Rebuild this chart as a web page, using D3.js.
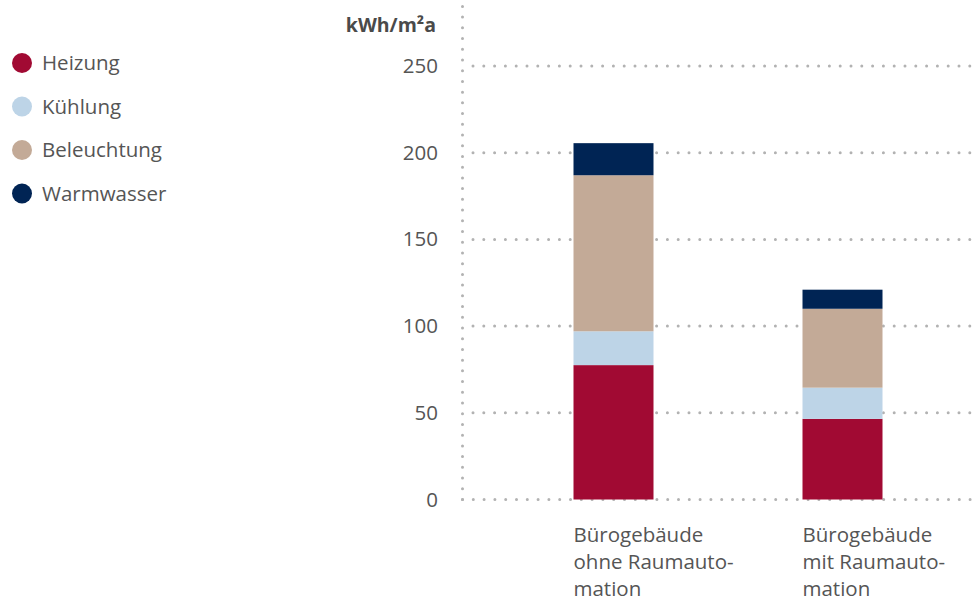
<!DOCTYPE html>
<html>
<head>
<meta charset="utf-8">
<script src="https://cdn.jsdelivr.net/npm/d3@7"></script>
<style>
  body { margin: 0; background: #fff; }
  svg { display: block; font-family: "Open Sans", sans-serif; }
</style>
</head>
<body>
<div id="chart"></div>
<script>
// data
var categories = ["Bürogebäude ohne Raumautomation", "Bürogebäude mit Raumautomation"];
var labelLines = [["Bürogebäude", "ohne Raumauto-", "mation"], ["Bürogebäude", "mit Raumauto-", "mation"]];
var seriesNames = ["Heizung", "Kühlung", "Beleuchtung", "Warmwasser"];
var heizung = [77.5, 46.5];
var kuehlung = [19.5, 18];
var beleuchtung = [90, 45.5];
var warmwasser = [18.5, 11];
var yTicks = [0, 50, 100, 150, 200, 250];
var colors = ["#a10a33", "#bdd4e7", "#c3aa97", "#002454"];

var width = 978, height = 601;

var svg = d3.select("#chart").append("svg")
    .attr("width", width)
    .attr("height", height);

// build table for stack
var table = categories.map(function(c, i) {
  return { cat: c, Heizung: heizung[i], "Kühlung": kuehlung[i], Beleuchtung: beleuchtung[i], Warmwasser: warmwasser[i] };
});
var stacked = d3.stack().keys(seriesNames)(table);

// scales
var y = d3.scaleLinear().domain([0, 250]).range([499.5, 66]);
var x = d3.scaleBand().domain(categories).range([499, 957]);
var barW = 80;
var axisX = 462.5;

// grid lines (dotted)
svg.append("g")
  .selectAll("line")
  .data(yTicks)
  .enter().append("line")
    .attr("x1", function(d) { return d === 0 ? axisX : axisX + 10.5; })
    .attr("x2", width)
    .attr("y1", function(d) { return y(d); })
    .attr("y2", function(d) { return y(d); })
    .attr("stroke", "#b2b2b2")
    .attr("stroke-width", 3)
    .attr("stroke-linecap", "round")
    .attr("stroke-dasharray", "0 10.8");

// vertical axis line (dotted)
svg.append("line")
  .attr("x1", axisX).attr("x2", axisX)
  .attr("y1", y(0)).attr("y2", 2)
  .attr("stroke", "#b2b2b2")
  .attr("stroke-width", 3)
  .attr("stroke-linecap", "round")
  .attr("stroke-dasharray", "0 10.72");

// y axis labels
var yAxis = svg.append("g")
  .attr("transform", "translate(438,0)")
  .call(d3.axisLeft(y).tickValues(yTicks).tickSize(0).tickPadding(0));
yAxis.select(".domain").remove();
yAxis.selectAll("text")
  .attr("font-family", "Open Sans, sans-serif")
  .attr("font-size", 20.5)
  .attr("fill", "#555");

// unit title
svg.append("text")
  .attr("x", 436)
  .attr("y", 32)
  .attr("text-anchor", "end")
  .attr("font-size", 19.5)
  .attr("font-weight", "bold")
  .attr("fill", "#4a4a4a")
  .text("kWh/m²a");

// bars
svg.append("g")
  .selectAll("g")
  .data(stacked)
  .enter().append("g")
    .attr("fill", function(d, i) { return colors[i]; })
  .selectAll("rect")
  .data(function(d) { return d; })
  .enter().append("rect")
    .attr("x", function(d) { return x(d.data.cat) + x.bandwidth() / 2 - barW / 2; })
    .attr("y", function(d) { return y(d[1]); })
    .attr("width", barW)
    .attr("height", function(d) { return y(d[0]) - y(d[1]); });

// category labels
categories.forEach(function(c, i) {
  var t = svg.append("text")
    .attr("x", x(c) + x.bandwidth() / 2 - barW / 2)
    .attr("y", 542)
    .attr("font-size", 20.5)
    .attr("fill", "#555");
  labelLines[i].forEach(function(line, j) {
    t.append("tspan")
      .attr("x", x(c) + x.bandwidth() / 2 - barW / 2)
      .attr("dy", j === 0 ? 0 : 27)
      .text(line);
  });
});

// legend
var legend = svg.append("g")
  .selectAll("g")
  .data(seriesNames)
  .enter().append("g")
    .attr("transform", function(d, i) { return "translate(22," + (63 + i * 43.5) + ")"; });
legend.append("circle")
  .attr("r", 10)
  .attr("fill", function(d, i) { return colors[i]; });
legend.append("text")
  .attr("x", 20)
  .attr("dy", "0.35em")
  .attr("font-size", 20.5)
  .attr("fill", "#555")
  .text(function(d) { return d; });
</script>
</body>
</html>
